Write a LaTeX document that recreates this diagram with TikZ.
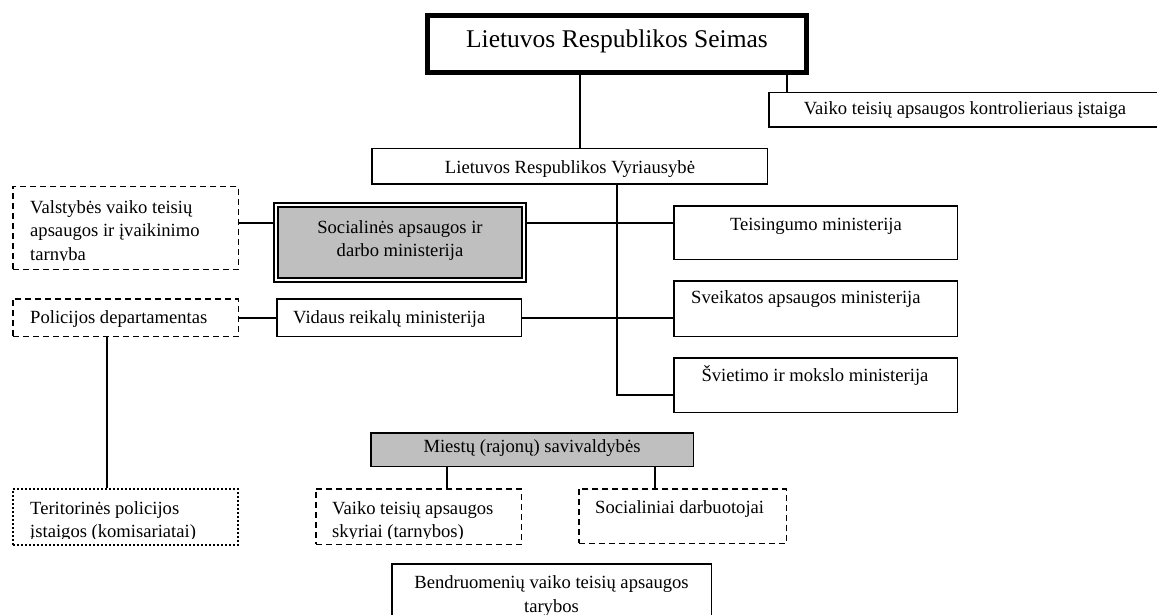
\documentclass[tikz,border=0pt]{standalone}
\usepackage{fontspec}
\setmainfont{Liberation Serif}
\begin{document}
\begin{tikzpicture}[x=1pt,y=-1pt,
  box/.style={draw, line width=1.5pt, inner sep=0pt, fill=white},
  dbox/.style={box, dash pattern=on 6pt off 4pt},
  obox/.style={box, line width=2pt, dash pattern=on 2pt off 2pt},
  gbox/.style={box, fill=black!25},
  txt/.style={inner sep=0pt, font=\fontsize{18.6}{23.5}\selectfont},
  stxt/.style={txt, text height=0.683em, text depth=0.217em},
  conn/.style={line width=1.6pt}]
\useasboundingbox (0,0) rectangle (1157,615);
% boxes
\node[box, line width=5pt, minimum width=379pt, minimum height=57pt] (seimas) at (617,44) {};
\node[box, minimum width=395.5pt, minimum height=34.5pt] (kontr) at (966.5,110) {};
\node[box, minimum width=395.5pt, minimum height=35.5pt] (vyr) at (569.5,166.5) {};
\node[dbox, minimum width=225.5pt, minimum height=82.5pt] (valst) at (125.5,228) {};
\node[box, fill=black!25, line width=1.8pt, double, double distance=2pt, minimum width=248.4pt, minimum height=75.4pt] (soc) at (400,242.5) {};
\node[box, minimum width=283.5pt, minimum height=53.5pt] (teis) at (815.5,232.5) {};
\node[box, minimum width=283.5pt, minimum height=55.5pt] (sveik) at (815.5,308.5) {};
\node[box, minimum width=283.5pt, minimum height=54.5pt] (svi) at (815.5,385) {};
\node[box, minimum width=244.5pt, minimum height=37.5pt] (vid) at (399,317.5) {};
\node[dbox, minimum width=225.5pt, minimum height=37.5pt] (pol) at (125.5,317.5) {};
\node[gbox, minimum width=322.5pt, minimum height=33.5pt] (miest) at (532,449.5) {};
\node[dbox, minimum width=205.5pt, minimum height=55.5pt] (vsk) at (418.5,516.5) {};
\node[dbox, minimum width=207.5pt, minimum height=54.5pt] (sdarb) at (682.5,516) {};
\node[obox, minimum width=225pt, minimum height=56pt] (terit) at (125.5,517) {};
\node[box, minimum width=319.5pt, minimum height=85.5pt] (bendr) at (551.5,606.5) {};
% texts
\node[stxt, font=\fontsize{25.5}{30}\selectfont] (seimast) at (617,45.1) {Lietuvos Respublikos Seimas};
\node[stxt] (kontrt) at (965,111.7) {Vaiko teisių apsaugos kontrolieriaus įstaiga};
\node[stxt] (vyrt) at (570,171.2) {Lietuvos Respublikos Vyriausybė};
\begin{scope}
\clip (12,186) rectangle (239,260.3);
\node[txt, align=left, anchor=north west] (valstt) at (30,200.3) {Valstybės vaiko teisių\\apsaugos ir įvaikinimo\\tarnyba};
\end{scope}
\node[txt, align=center, anchor=north] (soct) at (400,220.3) {Socialinės apsaugos ir\\darbo ministerija};
\node[stxt] (teist) at (816,227.7) {Teisingumo ministerija};
\node[stxt, anchor=west] (sveikt) at (691,300.7) {Sveikatos apsaugos ministerija};
\node[stxt] (svit) at (815,378.7) {Švietimo ir mokslo ministerija};
\node[stxt, anchor=west] (vidt) at (293,320.7) {Vidaus reikalų ministerija};
\node[stxt, anchor=west] (polt) at (30,320.7) {Policijos departamentas};
\node[stxt] (miestt) at (532,450.2) {Miestų (rajonų) savivaldybės};
\begin{scope}
\clip (315,488) rectangle (522,538.2);
\node[txt, align=left, anchor=north west] (vskt) at (332,501.3) {Vaiko teisių apsaugos\\skyriai (tarnybos)};
\end{scope}
\node[stxt, anchor=west] (sdarbt) at (595,510.7) {Socialiniai darbuotojai};
\begin{scope}
\clip (12,488) rectangle (239,538.2);
\node[txt, align=left, anchor=north west] (teritt) at (30,501.3) {Teritorinės policijos\\įstaigos (komisariatai)};
\end{scope}
\node[txt, align=center, anchor=north] (bendrt) at (551.5,575.5) {Bendruomenių vaiko teisių apsaugos\\tarybos};
% connectors
\coordinate (xA) at (580,0);
\coordinate (xB) at (787,0);
\coordinate (xC) at (617,0);
\coordinate (yS) at (0,395);
\coordinate (yT) at (0,223);
\coordinate (yV) at (0,318);
\coordinate (xP) at (107,0);
\coordinate (xM1) at (447,0);
\coordinate (xM2) at (655,0);
\draw[conn] (seimas.south -| xA) -- (vyr.north -| xA);
\draw[conn] (seimas.south -| xB) -- (kontr.north -| xB);
\draw[conn] (vyr.south -| xC) -- (xC |- yS) -- (svi.west |- yS);
\draw[conn] (soc.east |- yT) -- (teis.west |- yT);
\draw[conn] (valst.east |- yT) -- (soc.west |- yT);
\draw[conn] (vid.east |- yV) -- (sveik.west |- yV);
\draw[conn] (pol.east |- yV) -- (vid.west |- yV);
\draw[conn] (pol.south -| xP) -- (terit.north -| xP);
\draw[conn] (miest.south -| xM1) -- (vsk.north -| xM1);
\draw[conn] (miest.south -| xM2) -- (sdarb.north -| xM2);
\end{tikzpicture}
\end{document}
